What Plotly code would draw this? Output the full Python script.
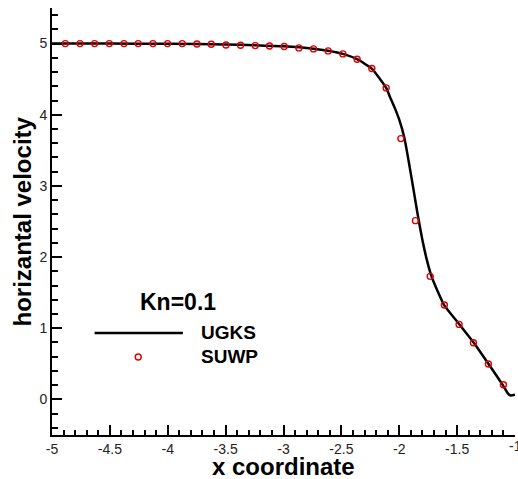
import plotly.graph_objects as go

# UGKS curve
ugks_x = [-5.0, -4.5, -4.0, -3.5, -3.244, -3.0, -2.741, -2.614, -2.487, -2.364, -2.237,
          -2.165, -2.113, -2.08, -2.04, -2.0, -1.955, -1.92, -1.88, -1.843, -1.80,
          -1.76, -1.722, -1.675, -1.612, -1.480, -1.356, -1.230, -1.105, -1.07, -1.05,
          -1.035, -1.0]
ugks_y = [5.0, 5.0, 4.998, 4.988, 4.975, 4.962, 4.928, 4.898, 4.855, 4.780, 4.649,
          4.50, 4.377, 4.25, 4.10, 3.93, 3.669, 3.36, 2.98, 2.62, 2.24,
          1.95, 1.733, 1.546, 1.326, 1.054, 0.797, 0.502, 0.201, 0.105, 0.065,
          0.055, 0.065]

# SUWP points
suwp_x = [-4.885, -4.758, -4.632, -4.505, -4.378, -4.255, -4.128, -4.002, -3.875, -3.748,
          -3.624, -3.497, -3.371, -3.244, -3.121, -2.994, -2.867, -2.741, -2.614, -2.487,
          -2.364, -2.237, -2.113, -1.986, -1.860, -1.733, -1.610, -1.483, -1.359, -1.230, -1.100]
suwp_y = [5.0, 5.0, 5.0, 5.0, 5.0, 5.0, 5.0, 5.0, 5.0, 4.995,
          4.99, 4.98, 4.977, 4.972, 4.967, 4.958, 4.939, 4.925, 4.897, 4.855,
          4.78, 4.649, 4.377, 3.665, 2.512, 1.729, 1.326, 1.054, 0.797, 0.497, 0.206]

x_ticks = [-5, -4.5, -4, -3.5, -3, -2.5, -2, -1.5, -1]
x_tick_labels = ["-5", "-4.5", "-4", "-3.5", "-3", "-2.5", "-2", "-1.5", "-1"]
y_ticks = [0, 1, 2, 3, 4, 5]
y_tick_labels = ["0", "1", "2", "3", "4", "5"]

FONT = "Liberation Sans, Arial, sans-serif"
RED = "#e00000"
TICKCOL = "#222"

fig = go.Figure()
fig.add_trace(go.Scatter(x=ugks_x, y=ugks_y, mode="lines", name="UGKS",
                         line=dict(color="black", width=2.5, shape="spline", smoothing=0.5),
                         showlegend=False))
fig.add_trace(go.Scatter(x=suwp_x, y=suwp_y, mode="markers", name="SUWP",
                         marker=dict(symbol="circle-open", size=6, color=RED,
                                     line=dict(color=RED, width=1.4)),
                         showlegend=False))

# Legend drawn manually
fig.add_trace(go.Scatter(x=[-4.255], y=[0.595], mode="markers", showlegend=False,
                         hoverinfo="skip",
                         marker=dict(symbol="circle-open", size=6, color=RED,
                                     line=dict(color=RED, width=1.4))))
fig.add_shape(type="line", x0=-4.632, x1=-3.869, y0=0.932, y1=0.932,
              line=dict(color="black", width=2.5))
fig.add_annotation(x=-3.909, y=1.364, text="<b>Kn=0.1</b>", showarrow=False,
                   font=dict(family=FONT, size=23, color="black"),
                   xanchor="center", yanchor="middle")
fig.add_annotation(x=-3.734, y=0.94, text="<b>UGKS</b>", showarrow=False,
                   font=dict(family=FONT, size=19, color="black"),
                   xanchor="left", yanchor="middle")
fig.add_annotation(x=-3.734, y=0.60, text="<b>SUWP</b>", showarrow=False,
                   font=dict(family=FONT, size=19, color="black"),
                   xanchor="left", yanchor="middle")

# Last x tick label (at the right edge, partially cut in the reference)
fig.add_annotation(x=x_ticks[-1], y=0, xref="x", yref="paper", yshift=-11,
                   text=x_tick_labels[-1], showarrow=False,
                   font=dict(family=FONT, size=14, color=TICKCOL),
                   xanchor="center", yanchor="middle")

# Axis titles
fig.add_annotation(x=0.5, y=0.0, xref="paper", yref="paper", yshift=-31,
                   text="<b>x coordinate</b>", showarrow=False,
                   font=dict(family=FONT, size=24, color="black"),
                   xanchor="center", yanchor="middle")
fig.add_annotation(x=0, y=0.5, xref="paper", yref="paper", xshift=-30,
                   yshift=0,
                   text="<b>horizantal velocity</b>", showarrow=False, textangle=-90,
                   font=dict(family=FONT, size=24, color="black"),
                   xanchor="center", yanchor="middle")

fig.update_layout(
    width=518, height=479,
    margin=dict(l=52, r=3, t=8, b=44),
    paper_bgcolor="white", plot_bgcolor="white",
    font=dict(family=FONT, size=14, color="black"),
)
fig.update_xaxes(range=[-5, -1], tickvals=x_ticks[:-1], ticktext=x_tick_labels[:-1],
                 showgrid=False, zeroline=False, showline=True, linecolor="black",
                 linewidth=2, ticks="inside", ticklen=10, tickwidth=2, tickcolor="black",
                 minor=dict(dtick=0.1, ticks="inside", ticklen=5, tickwidth=1.5,
                            tickcolor="black", showgrid=False),
                 tickfont=dict(family=FONT, size=14, color=TICKCOL))
fig.update_yaxes(range=[-0.5, 5.5], tickvals=y_ticks, ticktext=y_tick_labels,
                 showgrid=False, zeroline=False, showline=True, linecolor="black",
                 linewidth=2, ticks="inside", ticklen=10, tickwidth=2, tickcolor="black",
                 minor=dict(dtick=0.2, ticks="inside", ticklen=6, tickwidth=1.5,
                            tickcolor="black", showgrid=False),
                 tickfont=dict(family=FONT, size=14, color=TICKCOL))

fig.write_html("out.html", config={"displayModeBar": False},
               post_script="document.body.style.margin='0';document.body.style.padding='0';")
